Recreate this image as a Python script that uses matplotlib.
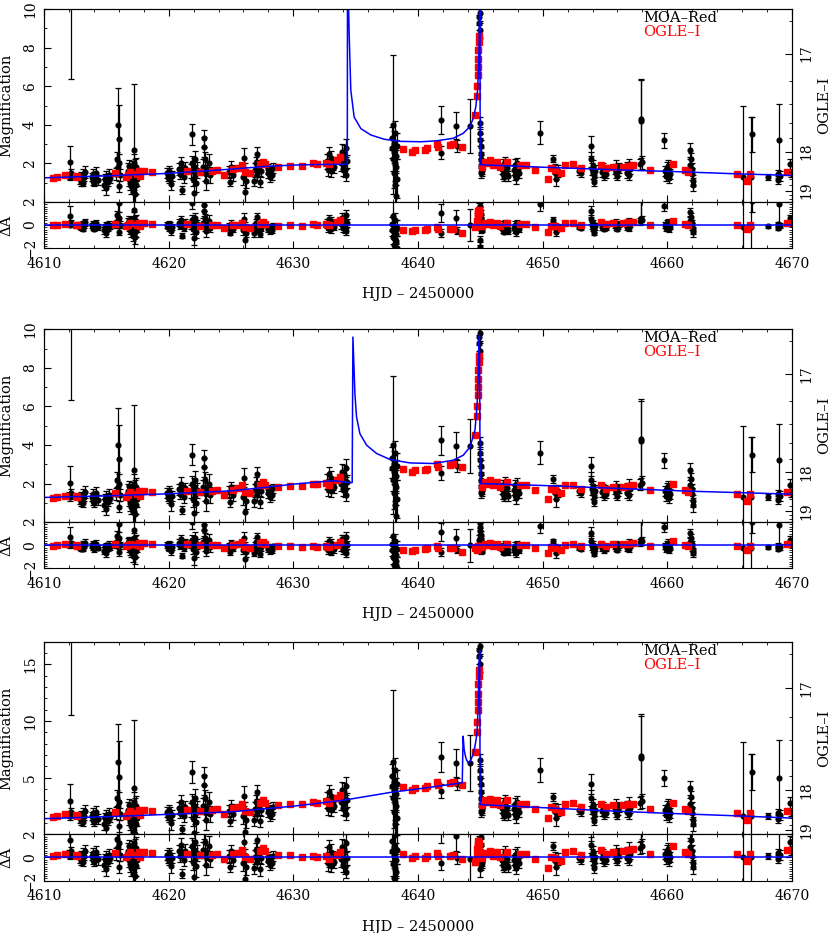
import matplotlib.pyplot as plt
import numpy as np
from matplotlib.ticker import MultipleLocator, FixedLocator

plt.rcParams['font.family'] = ['DejaVu Serif', 'DejaVu Sans']

# MOA-Red points, magnification (model 1)
moa_t = [4612.02, 4612.06, 4612.10, 4612.13, 4612.15,
         4612.90, 4612.95, 4613.00, 4613.05, 4613.10, 4613.15, 4613.20, 4613.28,
         4613.85, 4613.90, 4613.95, 4614.00, 4614.05, 4614.10, 4614.20, 4614.30,
         4614.85, 4614.90, 4614.95, 4615.00, 4615.10, 4615.20, 4615.30,
         4615.80, 4615.85, 4615.90, 4615.95, 4616.00, 4616.02, 4616.05, 4616.10,
         4616.75, 4616.80, 4616.85, 4616.90, 4616.95, 4617.00, 4617.05, 4617.10, 4617.15,
         4617.20, 4617.22, 4617.25, 4617.28, 4617.30, 4617.35, 4617.40, 4617.45,
         4619.90, 4619.95, 4620.00, 4620.05, 4620.10, 4620.20, 4620.30,
         4620.85, 4620.90, 4621.00, 4621.05, 4621.10, 4621.20, 4621.30,
         4621.80, 4621.85, 4621.90, 4621.95, 4622.00, 4622.05, 4622.10, 4622.15, 4622.20, 4622.30,
         4622.75, 4622.80, 4622.85, 4622.90, 4622.95, 4623.00, 4623.10, 4623.20, 4623.30,
         4624.85, 4624.90, 4625.00, 4625.10, 4625.20,
         4626.00, 4626.05, 4626.10, 4626.15, 4626.20,
         4626.85, 4626.90, 4627.00, 4627.05, 4627.10, 4627.20, 4627.30, 4627.40,
         4627.95, 4628.00, 4628.10, 4628.15, 4628.25, 4628.35,
         4632.70, 4632.80, 4632.85, 4632.90, 4633.00, 4633.05, 4633.15, 4633.25,
         4633.85, 4633.90, 4633.95, 4634.00, 4634.05, 4634.10, 4634.15, 4634.20, 4634.25, 4634.28,
         4637.90, 4637.95, 4638.00, 4638.02, 4638.05, 4638.08, 4638.10, 4638.12, 4638.15, 4638.18,
         4638.20, 4638.22, 4638.25, 4638.28, 4638.30,
         4641.82, 4641.85, 4643.05, 4643.10, 4644.20,
         4644.90, 4644.92, 4644.94, 4644.96, 4645.000, 4645.005, 4645.010, 4645.015, 4645.020,
         4645.040, 4645.060, 4645.080, 4645.100, 4645.120, 4645.150,
         4646.75, 4646.80, 4646.85, 4646.90, 4646.95, 4647.00, 4647.05, 4647.10, 4647.20,
         4647.70, 4647.75, 4647.80, 4647.85, 4647.90, 4647.95, 4648.00, 4648.10,
         4649.78, 4650.85, 4651.00, 4651.05, 4651.10, 4651.20,
         4652.95, 4653.05,
         4653.85, 4653.90, 4653.95, 4654.00, 4654.05, 4654.10, 4654.15, 4654.20,
         4654.80, 4654.85, 4654.90, 4655.00, 4655.05,
         4655.80, 4655.85, 4655.90, 4656.00, 4656.05, 4656.10,
         4656.75, 4656.80, 4656.85, 4656.90, 4656.95, 4657.00,
         4657.82, 4657.86, 4657.90, 4657.94,
         4659.75, 4659.85, 4659.90, 4659.95, 4660.00, 4660.05, 4660.10, 4660.15, 4660.20,
         4661.80, 4661.85, 4661.90, 4661.95, 4662.00, 4662.05, 4662.10,
         4666.05, 4666.75, 4666.80, 4668.05, 4668.85, 4668.90, 4668.95, 4669.00, 4669.85, 4669.90]
moa_a = [1.40, 1.30, 2.05, 1.50, 10.8,
         1.20, 1.05, 1.35, 1.15, 1.45, 1.00, 1.30, 1.55,
         1.30, 1.10, 1.45, 1.20, 1.00, 1.35, 1.50, 1.15,
         0.90, 1.20, 0.70, 1.35, 1.05, 1.40, 1.25,
         1.45, 2.20, 1.80, 4.00, 3.25, 2.00, 0.80, 1.40,
         1.60, 1.20, 1.85, 1.00, 1.50, 0.80, 1.70, 1.30, 0.50,
         2.00, 1.10, 2.70, 0.40, 1.60, 0.90, 1.80, 1.20,
         1.50, 1.30, 1.60, 1.20, 1.45, 0.95, 1.35,
         1.70, 1.45, 2.00, 0.62, 1.60, 1.30, 1.75,
         1.60, 2.00, 3.50, 1.20, 1.80, 0.45, 1.40, 2.20, 1.00, 1.65,
         1.80, 3.30, 2.85, 1.50, 2.20, 1.10, 1.70, 2.00, 1.40,
         1.55, 1.05, 1.80, 1.60, 1.40,
         1.30, 2.30, 0.50, 1.60, 1.10,
         1.10, 1.65, 2.00, 2.50, 1.40, 1.80, 1.05, 1.60,
         1.50, 1.70, 1.30, 1.60, 1.40, 1.75,
         2.10, 1.70, 2.50, 1.90, 2.30, 1.60, 2.00, 1.80,
         2.00, 2.60, 1.70, 2.30, 1.90, 2.50, 1.65, 2.80, 1.40, 2.10,
         2.80, 3.30, 2.20, 4.00, 2.60, 1.50, 3.00, 2.00, 3.60, 0.90,
         2.40, 1.80, 0.30, 2.90, 1.20,
         4.25, 2.55, 3.95, 2.90, 3.95,
         9.60, 9.30, 8.90, 9.80, 4.10, 3.60, 3.20, 2.90, 2.50,
         2.20, 1.85, 1.50, 1.70, 1.95, 1.60,
         1.70, 1.45, 1.90, 1.30, 1.60, 2.05, 1.50, 1.75, 1.35,
         1.65, 1.40, 1.90, 1.55, 1.25, 2.00, 1.70, 1.50,
         3.60, 2.25, 1.70, 1.45, 1.20, 1.60,
         1.60, 1.50,
         2.90, 2.20, 1.70, 1.50, 1.85, 1.05, 1.40, 1.60,
         1.55, 1.75, 1.35, 1.65, 1.45,
         1.70, 1.50, 1.85, 1.35, 1.60, 1.75,
         1.80, 1.50, 1.65, 1.95, 1.40, 1.70,
         1.95, 4.20, 4.30, 2.05,
         3.20, 1.60, 1.35, 1.75, 1.50, 1.85, 1.25, 1.65, 1.45,
         2.70, 1.90, 2.25, 1.45, 1.70, 1.10, 0.90,
         1.30, 1.30, 3.50, 1.30, 1.45, 1.15, 3.20, 1.35, 1.95, 1.50]
moa_e = [0.15, 0.18, 0.85, 0.20, 4.45,
         0.25, 0.20, 0.20, 0.22, 0.25, 0.20, 0.20, 0.30,
         0.20, 0.20, 0.25, 0.20, 0.20, 0.20, 0.30, 0.25,
         0.30, 0.25, 0.35, 0.25, 0.20, 0.30, 0.25,
         0.30, 0.40, 0.30, 1.90, 1.80, 0.50, 0.30, 0.30,
         0.40, 0.35, 0.30, 0.40, 0.35, 0.40, 0.40, 0.45, 0.50,
         0.50, 0.50, 3.40, 0.60, 0.60, 0.50, 0.50, 0.40,
         0.25, 0.20, 0.25, 0.20, 0.30, 0.35, 0.25,
         0.30, 0.25, 0.35, 0.20, 0.30, 0.30, 0.30,
         0.35, 0.40, 0.55, 0.40, 0.50, 0.60, 0.50, 0.45, 0.50, 0.40,
         0.40, 0.45, 0.50, 0.40, 0.40, 0.50, 0.35, 0.50, 0.40,
         0.30, 0.25, 0.30, 0.30, 0.30,
         0.40, 0.50, 0.90, 0.40, 0.40,
         0.30, 0.35, 0.35, 0.35, 0.30, 0.30, 0.30, 0.30,
         0.25, 0.25, 0.25, 0.25, 0.25, 0.25,
         0.40, 0.35, 0.35, 0.35, 0.35, 0.30, 0.35, 0.30,
         0.40, 0.40, 0.35, 0.40, 0.35, 0.45, 0.35, 0.45, 0.30, 0.35,
         0.50, 0.60, 0.60, 3.60, 0.60, 0.80, 0.70, 0.90, 0.60, 1.00,
         0.80, 0.90, 1.20, 0.70, 1.00,
         0.75, 0.35, 0.70, 0.30, 1.40,
         0.40, 0.40, 0.40, 0.40, 0.30, 0.30, 0.30, 0.30, 0.30,
         0.25, 0.25, 0.25, 0.25, 0.25, 0.25,
         0.25, 0.25, 0.30, 0.20, 0.25, 0.30, 0.25, 0.25, 0.25,
         0.25, 0.25, 0.30, 0.25, 0.30, 0.30, 0.30, 0.25,
         0.60, 0.20, 0.25, 0.25, 0.40, 0.30,
         0.20, 0.20,
         0.50, 0.40, 0.30, 0.30, 0.30, 0.20, 0.25, 0.30,
         0.25, 0.25, 0.20, 0.25, 0.20,
         0.25, 0.25, 0.30, 0.20, 0.25, 0.25,
         0.25, 0.25, 0.25, 0.30, 0.25, 0.25,
         0.30, 2.20, 2.00, 0.35,
         0.40, 0.25, 0.25, 0.30, 0.25, 0.30, 0.25, 0.25, 0.25,
         0.35, 0.30, 0.30, 0.30, 0.30, 0.30, 0.35,
         3.70, 3.10, 0.90, 0.15, 0.20, 0.20, 1.90, 0.25, 0.30, 0.20]

# OGLE-I points, same units
ogle_t = [4610.75, 4611.05, 4611.70, 4612.55, 4612.62,
          4615.70, 4616.60, 4616.75, 4616.90, 4617.50, 4617.60, 4617.70, 4618.00, 4618.70,
          4621.50, 4622.50, 4623.50, 4623.90, 4624.40, 4625.20, 4625.60, 4625.86, 4626.10, 4626.50,
          4627.30, 4627.54, 4627.70, 4628.80, 4629.70, 4630.70, 4631.60, 4631.90, 4632.60, 4632.90,
          4633.50, 4633.75,
          4638.82, 4639.50, 4639.76, 4640.55, 4640.70, 4641.50, 4641.60, 4642.56, 4642.80, 4643.50,
          4644.56,
          4644.72, 4644.75, 4644.78, 4644.80, 4644.82, 4644.84, 4644.86, 4644.88,
          4645.10, 4645.36, 4645.63, 4645.76, 4645.98, 4646.30, 4646.57, 4647.10, 4648.17, 4648.70,
          4649.37, 4650.45, 4650.70, 4650.98, 4651.50, 4651.78, 4652.45, 4653.10, 4654.72, 4655.10,
          4655.66, 4656.46, 4656.86, 4657.26, 4658.60, 4660.47, 4661.40, 4661.68, 4665.55, 4666.41,
          4666.62, 4669.56]
ogle_a = [1.25, 1.30, 1.38, 1.33, 1.30,
          1.50, 1.30, 1.42, 1.55, 1.45, 1.60, 1.35, 1.60, 1.55,
          1.60, 1.55, 1.60, 1.65, 1.40, 1.69, 1.75, 1.92, 1.57, 1.49,
          1.95, 2.09, 1.95, 1.83, 1.88, 1.88, 2.00, 1.96, 2.04, 1.95,
          2.18, 2.35,
          2.73, 2.61, 2.69, 2.69, 2.78, 3.00, 2.87, 2.95, 3.00, 2.87,
          4.51,
          5.50, 6.00, 6.60, 7.00, 7.40, 7.90, 8.30, 8.60,
          1.83, 2.09, 2.00, 2.17, 1.92, 2.09, 1.83, 2.09, 1.92, 1.92,
          1.66, 1.19, 1.74, 1.66, 1.49, 1.92, 1.95, 1.74, 1.92, 1.74,
          1.83, 1.83, 1.88, 1.92, 1.66, 1.97, 1.66, 1.57, 1.45, 1.11,
          1.45, 1.57]
ogle_e = [0.08, 0.08, 0.08, 0.08, 0.08,
          0.08, 0.08, 0.08, 0.08, 0.08, 0.08, 0.08, 0.08, 0.08,
          0.08, 0.08, 0.08, 0.08, 0.08, 0.08, 0.08, 0.08, 0.08, 0.08,
          0.08, 0.08, 0.08, 0.08, 0.08, 0.08, 0.08, 0.08, 0.08, 0.08,
          0.08, 0.08,
          0.10, 0.10, 0.10, 0.10, 0.10, 0.10, 0.10, 0.10, 0.10, 0.10,
          0.12,
          0.15, 0.15, 0.15, 0.15, 0.15, 0.15, 0.15, 0.15,
          0.08, 0.08, 0.08, 0.08, 0.08, 0.08, 0.08, 0.08, 0.08, 0.08,
          0.08, 0.08, 0.08, 0.08, 0.08, 0.08, 0.08, 0.08, 0.08, 0.08,
          0.08, 0.08, 0.08, 0.08, 0.08, 0.08, 0.08, 0.08, 0.10, 0.10,
          0.10, 0.10]

# model light curves
model1_t = [4610, 4615, 4620, 4625, 4628, 4630, 4632, 4634.33, 4634.35, 4634.40, 4634.48,
            4634.61, 4634.88, 4635.42, 4636.22, 4637.29, 4638.63, 4640.24, 4641.5, 4642.82,
            4643.63, 4644.16, 4644.43, 4644.64, 4644.78, 4644.86, 4644.91, 4644.95, 4644.975,
            4644.985, 4645.3, 4650, 4656.2, 4660.7, 4665, 4670]
model1_a = [1.25, 1.35, 1.48, 1.70, 1.85, 1.91, 1.94, 1.95, 14.0, 11.0, 8.7,
            5.8, 4.4, 3.8, 3.47, 3.25, 3.14, 3.12, 3.17, 3.30,
            3.56, 3.90, 4.33, 4.94, 5.80, 7.00, 8.40, 10.8, 13.0,
            1.93, 1.92, 1.80, 1.66, 1.57, 1.47, 1.37]
model2_t = [4610, 4615, 4620, 4625, 4628, 4630, 4632, 4633.2, 4634.54, 4634.72, 4634.78,
            4634.94, 4635.07, 4635.34, 4635.88, 4636.68, 4637.75, 4639.35, 4641.2, 4642.83,
            4643.63, 4644.17, 4644.57, 4644.75, 4644.86, 4644.93, 4644.985, 4646, 4650, 4656,
            4662, 4670]
model2_a = [1.28, 1.36, 1.47, 1.62, 1.82, 1.97, 2.08, 2.15, 2.05, 2.05, 9.6,
            6.67, 5.46, 4.59, 3.99, 3.56, 3.25, 3.07, 3.04, 3.21,
            3.47, 3.90, 4.77, 6.15, 8.40, 9.70, 2.00, 1.98, 1.90, 1.75,
            1.60, 1.45]
model3_t = [4610, 4615, 4620, 4625, 4630, 4634, 4638, 4640, 4642, 4643.4, 4643.55, 4643.62,
            4643.7, 4643.8, 4643.9, 4644.03, 4644.2, 4644.4, 4644.56, 4644.68, 4644.75,
            4644.85, 4644.9, 4644.95, 4644.985, 4645.3, 4650, 4654.6, 4660, 4665, 4670]
model3_a = [1.38, 1.55, 1.76, 1.98, 2.48, 3.00, 3.73, 4.00, 4.30, 4.52, 4.55, 8.65,
            7.50, 6.90, 6.55, 6.30, 6.45, 7.00, 7.70, 8.50, 9.20,
            12.1, 15.1, 16.2, 2.64, 2.60, 2.35, 2.10, 1.85, 1.65, 1.43]

models_t = [model1_t, model2_t, model3_t]
models_a = [model1_a, model2_a, model3_a]

# OGLE-I flux scaling of each model: A = fs * 10**(-0.4 (I - 19)) + fb
panel_fs = [1.34, 1.34, 2.36]
panel_fb = [-0.756, -0.756, -2.0]
panel_ymax = [10, 10, 17]
panel_yticks = [[2, 4, 6, 8, 10], [2, 4, 6, 8, 10], [5, 10, 15]]

main_bottom = [0.7836, 0.4404, 0.1058]
res_bottom = [0.7339, 0.3907, 0.0561]


def mag_to_a(mag, fs, fb):
    return fs * 10 ** (-0.4 * (np.asarray(mag) - 19.0)) + fb


fig = plt.figure(figsize=(8.3, 9.33), dpi=100)

moa_flux = (np.array(moa_a) - panel_fb[0]) / panel_fs[0]
ogle_flux = (np.array(ogle_a) - panel_fb[0]) / panel_fs[0]

for p in range(3):
    fs, fb = panel_fs[p], panel_fb[p]
    mt = np.array(models_t[p])
    ma = np.array(models_a[p])

    m_a = fs * moa_flux + fb
    m_e = np.array(moa_e) * fs / panel_fs[0]
    o_a = fs * ogle_flux + fb
    o_e = np.array(ogle_e) * fs / panel_fs[0]
    m_res = m_a - np.interp(moa_t, mt, ma)
    o_res = o_a - np.interp(ogle_t, mt, ma)

    ax = fig.add_axes([0.053, main_bottom[p], 0.9012, 0.2066])
    rx = fig.add_axes([0.053, res_bottom[p], 0.9012, 0.0497], sharex=ax)

    ax.errorbar(moa_t, m_a, yerr=m_e, fmt='o', color='black', ms=3.4,
                elinewidth=0.9, capsize=2, capthick=0.9, zorder=2)
    ax.errorbar(ogle_t, o_a, yerr=o_e, fmt='s', color='red', ms=4.3,
                elinewidth=0.9, capsize=2, capthick=0.9, zorder=3)
    ax.plot(mt, ma, color='blue', lw=1.1, zorder=4)

    rx.errorbar(moa_t, m_res, yerr=m_e, fmt='o', color='black', ms=3.4,
                elinewidth=0.9, capsize=2, capthick=0.9, zorder=2)
    rx.errorbar(ogle_t, o_res, yerr=o_e, fmt='s', color='red', ms=4.3,
                elinewidth=0.9, capsize=2, capthick=0.9, zorder=3)
    rx.plot(mt, ma - np.interp(mt, mt, ma), color='blue', lw=1.1, zorder=4)

    ax.set_xlim(4610, 4670)
    ax.set_ylim(0, panel_ymax[p])
    ax.set_yticks(panel_yticks[p])
    ax.yaxis.set_minor_locator(MultipleLocator(1))
    ax.xaxis.set_major_locator(MultipleLocator(10))
    ax.xaxis.set_minor_locator(MultipleLocator(2))
    ax.tick_params(which='both', direction='in', top=True, right=False,
                   labelbottom=False, labelsize=10)
    ax.tick_params(which='major', length=5)
    ax.tick_params(which='minor', length=2.5)
    ax.tick_params(axis='y', labelrotation=90, pad=5)
    for lab in ax.get_yticklabels():
        lab.set_va('center')
    ax.set_ylabel('Magnification', fontsize=10.5)
    ax.yaxis.set_label_coords(-0.041, 0.5)

    # OGLE-I magnitude scale on the right
    ax2 = ax.twinx()
    ax2.set_ylim(0, panel_ymax[p])
    mags = np.array([17, 18, 19])
    pos = mag_to_a(mags, fs, fb)
    keep = (pos > 0) & (pos < panel_ymax[p])
    ax2.set_yticks(pos[keep])
    ax2.set_yticklabels([str(m) for m in mags[keep]])
    minor_mags = np.arange(16.0, 20.01, 0.2)
    mpos = mag_to_a(minor_mags, fs, fb)
    ax2.yaxis.set_minor_locator(FixedLocator(mpos[(mpos > 0) & (mpos < panel_ymax[p])]))
    ax2.tick_params(which='both', direction='in', labelsize=10)
    ax2.tick_params(which='major', length=5)
    ax2.tick_params(which='minor', length=2.5)
    ax2.tick_params(axis='y', labelrotation=90, pad=5)
    for lab in ax2.get_yticklabels():
        lab.set_va('center')
    ax2.set_ylabel('OGLE–I', fontsize=10.5, rotation=90, va='top')
    ax2.yaxis.set_label_coords(1.033, 0.5)

    ax.text(0.801, 0.953, 'MOA–Red', transform=ax.transAxes, color='black',
            fontsize=10.5, va='center', ha='left')
    ax.text(0.801, 0.88, 'OGLE–I', transform=ax.transAxes, color='red',
            fontsize=10.5, va='center', ha='left')

    rx.set_xlim(4610, 4670)
    rx.set_ylim(-2, 2)
    rx.set_yticks([-2, 0, 2])
    rx.set_yticklabels(['−2', '0', '2'])
    rx.yaxis.set_minor_locator(MultipleLocator(0.2))
    rx.tick_params(which='both', direction='in', top=True, right=True, labelsize=10)
    rx.tick_params(which='major', length=5)
    rx.tick_params(which='minor', length=2)
    rx.tick_params(axis='x', pad=6)
    rx.tick_params(axis='y', labelrotation=90, pad=5)
    for lab in rx.get_yticklabels():
        lab.set_va('center')
    rx.set_ylabel('ΔA', fontsize=10.5)
    rx.yaxis.set_label_coords(-0.041, 0.5)
    rx.set_xlabel('HJD – 2450000', fontsize=10.5, labelpad=12)

fig.savefig('out.png', dpi=100)
